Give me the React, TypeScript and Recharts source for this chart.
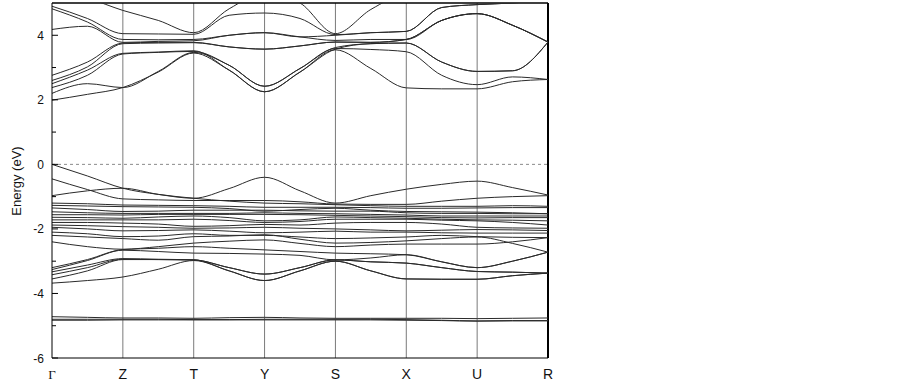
import { LineChart, Line, XAxis, YAxis, ReferenceLine } from "recharts";

// k-path: high-symmetry points at integers, midpoints between them
const kPath = [0, 0.5, 1, 1.5, 2, 2.5, 3, 3.5, 4, 4.5, 5, 5.5, 6, 6.5, 7];
const kTicks = [0, 1, 2, 3, 4, 5, 6, 7];
const kLabels = ["Γ", "Z", "T", "Y", "S", "X", "U", "R"];
const energyTicks = [-6, -5, -4, -3, -2, -1, 0, 1, 2, 3, 4];

// conduction bands, listed per k-point
const conductionByK = [
  [1.99, 2.2, 2.38, 2.5, 2.6, 2.76, 4.18, 4.82, 4.9, 5.4],
  [2.17, 2.5, 2.76, 2.92, 3.02, 3.17, 4.28, 4.41, 4.52, 5.15],
  [2.38, 2.38, 3.42, 3.44, 3.74, 3.76, 3.78, 3.87, 4.05, 4.77],
  [2.86, 2.88, 3.47, 3.48, 3.76, 3.78, 3.81, 3.86, 4.04, 4.46],
  [3.45, 3.47, 3.5, 3.52, 3.77, 3.78, 3.83, 3.87, 4.03, 4.08],
  [2.92, 3.07, 3.07, 2.92, 3.64, 3.64, 4.0, 4.0, 4.62, 4.82],
  [2.25, 2.42, 2.42, 2.25, 3.57, 3.57, 4.08, 4.08, 4.69, 5.3],
  [2.86, 2.97, 2.97, 2.86, 3.67, 3.67, 3.95, 3.95, 4.52, 5.0],
  [3.55, 3.59, 3.62, 3.57, 3.79, 3.79, 3.84, 4.0, 4.02, 4.05],
  [2.97, 3.56, 3.74, 3.74, 3.78, 3.78, 3.87, 4.08, 4.08, 4.8],
  [2.37, 3.49, 3.76, 3.76, 3.87, 3.87, 3.87, 4.12, 4.12, 5.3],
  [2.34, 2.76, 3.17, 3.17, 4.46, 4.46, 4.46, 4.86, 4.86, 5.4],
  [2.34, 2.47, 2.88, 2.88, 4.67, 4.67, 4.67, 4.95, 4.95, 5.4],
  [2.56, 2.71, 2.9, 2.9, 4.31, 4.31, 4.31, 5.0, 5.0, 5.4],
  [2.63, 2.63, 3.79, 3.79, 3.79, 3.79, 3.79, 5.1, 5.1, 5.4],
];

// valence bands, each listed along the k-path
const vb1 = [0, -0.36, -0.74, -0.93, -1.05, -0.75, -0.4, -0.82, -1.2, -0.97, -0.77, -0.62, -0.52, -0.72, -0.95];
const vb2 = [-0.45, -0.78, -1.07, -1.1, -1.12, -1.12, -1.12, -1.16, -1.23, -1.24, -1.24, -1.14, -1.05, -1.0, -0.97];
const vb3 = [-0.97, -0.82, -0.74, -0.93, -1.05, -1.14, -1.2, -1.22, -1.25, -1.28, -1.3, -1.3, -1.3, -1.28, -1.3];
const denseBands = [
  [-1.2, -1.22, -1.26, -1.27, -1.28, -1.3, -1.33, -1.33, -1.33, -1.34, -1.36, -1.36, -1.35, -1.34, -1.34],
  [-1.27, -1.29, -1.31, -1.32, -1.33, -1.37, -1.45, -1.4, -1.36, -1.42, -1.46, -1.47, -1.48, -1.5, -1.53],
  [-1.35, -1.4, -1.46, -1.45, -1.42, -1.42, -1.42, -1.44, -1.45, -1.45, -1.5, -1.52, -1.52, -1.53, -1.53],
  [-1.47, -1.5, -1.52, -1.52, -1.52, -1.52, -1.5, -1.52, -1.53, -1.55, -1.57, -1.6, -1.6, -1.6, -1.6],
  [-1.56, -1.56, -1.57, -1.55, -1.55, -1.55, -1.55, -1.56, -1.58, -1.6, -1.62, -1.65, -1.66, -1.65, -1.65],
  [-1.64, -1.65, -1.67, -1.63, -1.6, -1.65, -1.75, -1.72, -1.63, -1.65, -1.67, -1.7, -1.72, -1.73, -1.75],
  [-1.72, -1.72, -1.72, -1.72, -1.7, -1.74, -1.8, -1.77, -1.7, -1.7, -1.7, -1.73, -1.75, -1.8, -1.88],
  [-1.8, -1.8, -1.82, -1.85, -1.92, -1.9, -1.86, -1.88, -1.82, -1.8, -1.8, -1.85, -1.95, -1.97, -1.98],
  [-1.88, -1.9, -1.93, -1.95, -1.98, -1.97, -1.95, -1.98, -2.0, -2.03, -2.06, -2.04, -2.02, -2.03, -2.05],
  [-1.95, -2.0, -2.06, -2.05, -2.03, -2.07, -2.12, -2.1, -2.07, -2.1, -2.1, -2.12, -2.13, -2.13, -2.13],
  [-2.1, -2.15, -2.24, -2.22, -2.15, -2.2, -2.2, -2.25, -2.3, -2.28, -2.25, -2.2, -2.24, -2.26, -2.27],
  [-2.2, -2.25, -2.3, -2.35, -2.24, -2.22, -2.18, -2.32, -2.44, -2.42, -2.37, -2.3, -2.25, -2.45, -2.72],
  [-2.4, -2.55, -2.63, -2.55, -2.44, -2.38, -2.34, -2.45, -2.55, -2.5, -2.47, -2.47, -2.47, -2.4, -2.27],
];
const lowerBands = [
  [-3.2, -2.95, -2.64, -2.6, -2.55, -2.6, -2.65, -2.7, -2.75, -2.77, -2.8, -3.02, -3.2, -3.0, -2.72],
  [-3.26, -2.98, -2.66, -2.7, -2.75, -2.76, -2.78, -2.82, -2.96, -2.9, -2.8, -3.02, -3.2, -3.0, -2.72],
  [-3.33, -3.12, -2.92, -2.94, -2.96, -3.2, -3.4, -3.2, -2.96, -3.02, -3.06, -3.2, -3.32, -3.34, -3.37],
  [-3.42, -3.2, -2.94, -2.95, -2.96, -3.3, -3.6, -3.3, -3.0, -3.3, -3.55, -3.56, -3.56, -3.45, -3.37],
  [-3.55, -3.3, -2.95, -2.95, -2.96, -3.2, -3.4, -3.2, -2.96, -3.02, -3.06, -3.2, -3.32, -3.34, -3.37],
  [-3.68, -3.6, -3.49, -3.25, -2.98, -3.3, -3.6, -3.3, -3.0, -3.3, -3.55, -3.56, -3.56, -3.45, -3.37],
];
const flatBands = [
  [-4.72, -4.74, -4.76, -4.76, -4.77, -4.75, -4.74, -4.76, -4.77, -4.77, -4.77, -4.77, -4.78, -4.77, -4.76],
  [-4.8, -4.8, -4.8, -4.8, -4.81, -4.81, -4.8, -4.8, -4.8, -4.8, -4.81, -4.83, -4.85, -4.84, -4.84],
  [-4.83, -4.83, -4.82, -4.82, -4.82, -4.82, -4.82, -4.82, -4.82, -4.82, -4.83, -4.84, -4.86, -4.85, -4.85],
];

const conductionBands = conductionByK[0].map((_, j) => conductionByK.map((row) => row[j]));
const bands = [...conductionBands, vb1, vb2, vb3, ...denseBands, ...lowerBands, ...flatBands];

const data = kPath.map((k, i) => {
  const row: Record<string, number> = { k };
  bands.forEach((b, j) => {
    row["b" + j] = b[i];
  });
  return row;
});

const FONT = "'Liberation Sans', Arial, sans-serif";

function EnergyTick({ x, y, payload }: any) {
  const major = payload.value % 2 === 0;
  return (
    <g>
      <line x1={x} x2={x + (major ? 6 : 4)} y1={y} y2={y} stroke="#000" />
      {major && (
        <text x={x - 8} y={y} dy={4.5} textAnchor="end" fontSize={12} fontFamily={FONT} fill="#111">
          {payload.value}
        </text>
      )}
    </g>
  );
}

function KTick({ x, y, payload }: any) {
  const label = kLabels[payload.value];
  const isGamma = label === "Γ";
  return (
    <text
      x={x}
      y={y + 19}
      textAnchor="middle"
      fontSize={isGamma ? 13 : 14}
      fontFamily={isGamma ? "'Liberation Serif', 'DejaVu Serif', serif" : FONT}
      fill="#111"
    >
      {label}
    </text>
  );
}

export default function App() {
  return (
    <div style={{ position: "absolute", left: 0, top: 0, width: 903, height: 383, background: "#fff" }}>
      <LineChart width={903} height={383} data={data} margin={{ top: 3, right: 355, bottom: 0, left: 0 }}>
        <XAxis
          dataKey="k"
          type="number"
          domain={[0, 7]}
          ticks={kTicks}
          tick={<KTick />}
          tickLine={false}
          tickSize={0}
          height={25}
          stroke="#000"
          interval={0}
        />
        <YAxis
          type="number"
          domain={[-6, 5]}
          allowDataOverflow
          ticks={energyTicks}
          tick={<EnergyTick />}
          tickLine={false}
          tickSize={0}
          tickMargin={0}
          width={52}
          stroke="#000"
          interval={0}
        />
        {kTicks.slice(1, 7).map((k) => (
          <ReferenceLine key={k} x={k} stroke="#7a7a7a" strokeWidth={1} />
        ))}
        <ReferenceLine y={0} stroke="#8a8a8a" strokeDasharray="3 3" />
        <ReferenceLine y={5} stroke="#000" strokeWidth={1.5} />
        <ReferenceLine x={7} stroke="#000" strokeWidth={2} />
        {bands.map((_, j) => (
          <Line
            key={j}
            dataKey={"b" + j}
            type="monotone"
            stroke="#2a2a2a"
            strokeWidth={1}
            dot={false}
            activeDot={false}
            isAnimationActive={false}
          />
        ))}
      </LineChart>
      <div
        style={{
          position: "absolute",
          left: 16,
          top: 181,
          transform: "translate(-50%, -50%) rotate(-90deg)",
          fontFamily: FONT,
          fontSize: 13,
          color: "#111",
          whiteSpace: "nowrap",
        }}
      >
        Energy (eV)
      </div>
    </div>
  );
}
